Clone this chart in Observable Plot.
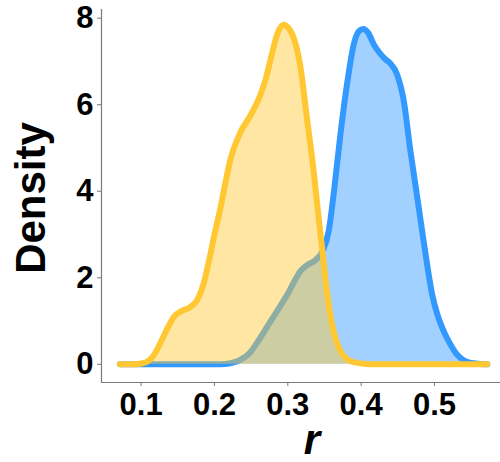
<!DOCTYPE html>
<html><head><meta charset="utf-8">
<script src="https://cdn.jsdelivr.net/npm/d3@7"></script>
<script src="https://cdn.jsdelivr.net/npm/@observablehq/plot@0.6"></script>
<style>
body{margin:0;background:#fff;}
#chart{width:500px;height:462px;}
</style></head><body><div id="chart"></div>
<script>
// Yellow density curve
const yellowR = [0.071,0.09,0.1,0.108,0.116,0.125,0.135,0.145,0.155,0.167,0.177,0.185,0.192,0.2,0.208,0.215,0.222,0.235,0.249,0.262,0.27,0.278,0.286,0.294,0.302,0.309,0.317,0.326,0.335,0.342,0.348,0.354,0.36,0.367,0.375,0.385,0.4,0.42,0.572];
const yellowDensity = [0,0,0.02,0.06,0.18,0.45,0.8,1.1,1.23,1.32,1.5,1.85,2.35,3.0,3.6,4.2,4.75,5.35,5.75,6.2,6.6,7.15,7.65,7.85,7.75,7.5,6.9,5.7,4.5,3.4,2.5,1.6,0.95,0.5,0.22,0.08,0.02,0,0];
// Blue density curve
const blueR = [0.071,0.2,0.215,0.225,0.235,0.249,0.262,0.276,0.288,0.299,0.31,0.317,0.327,0.337,0.347,0.356,0.363,0.372,0.381,0.39,0.397,0.403,0.41,0.417,0.425,0.433,0.44,0.449,0.458,0.467,0.477,0.483,0.49,0.497,0.504,0.513,0.522,0.53,0.539,0.55,0.562,0.572];
const blueDensity = [0,0,0.01,0.04,0.1,0.28,0.6,0.98,1.3,1.6,1.95,2.15,2.3,2.4,2.6,3.1,4.0,5.35,6.5,7.4,7.7,7.75,7.65,7.4,7.2,7.05,6.95,6.7,6.1,4.95,3.8,3.1,2.3,1.6,1.15,0.75,0.45,0.24,0.1,0.03,0.01,0];

const xTicks = [0.1,0.2,0.3,0.4,0.5];
const yTicks = [0,2,4,6,8];
const xDomain = [0.046,0.59];
const yDomain = [-0.42,8.2];

const rows = (rs, ds) => rs.map((r,i)=>({r, density: ds[i]}));
const blue = rows(blueR, blueDensity);
const yellow = rows(yellowR, yellowDensity);

const axisColor = "#7a7a7a";
const font = "'Liberation Sans', Arial, sans-serif";

const lineOpts = (c) => ({x:"r", y:"density", stroke:c, strokeWidth:6, curve:"monotone-x", strokeLinecap:"round", strokeLinejoin:"round"});
const areaOpts = (c) => ({x:"r", y:"density", fill:c, fillOpacity:0.45, curve:"monotone-x"});

const plot = Plot.plot({
  width:500, height:462,
  marginLeft:101, marginRight:0, marginTop:9, marginBottom:80,
  x:{domain:xDomain},
  y:{domain:yDomain},
  style:{fontFamily:font, background:"#fff", color:"#000"},
  marks:[
    Plot.areaY(blue, areaOpts("#3399ff")),
    Plot.lineY(blue, lineOpts("#3399ff")),
    Plot.areaY(yellow, areaOpts("#ffc832")),
    Plot.lineY(yellow, lineOpts("#ffc832")),
    Plot.ruleX([xDomain[0]], {stroke:axisColor, strokeWidth:1.2}),
    Plot.ruleY([yDomain[0]], {stroke:axisColor, strokeWidth:1.2}),
    Plot.axisX({ticks:xTicks, tickFormat:d=>d.toFixed(1), tickSize:4, tickPadding:6, stroke:axisColor, fill:"#000", fontSize:31, fontWeight:"bold", label:null}),
    Plot.axisY({ticks:yTicks, tickFormat:d=>String(d), tickSize:4, tickPadding:4, stroke:axisColor, fill:"#000", fontSize:31, fontWeight:"bold", label:null}),
    Plot.text(["Density"], {frameAnchor:"left", text:d=>d, rotate:-90, dx:-70, dy:2, textAnchor:"middle", lineAnchor:"middle", fontSize:42, fontWeight:"bold", fill:"#000"}),
    Plot.text(["r"], {frameAnchor:"bottom", text:d=>d, dx:11, dy:71, textAnchor:"middle", lineAnchor:"bottom", fontSize:42, fontWeight:"bold", fontStyle:"italic", fill:"#000"})
  ]
});
document.getElementById("chart").appendChild(plot);
</script>
</body></html>
